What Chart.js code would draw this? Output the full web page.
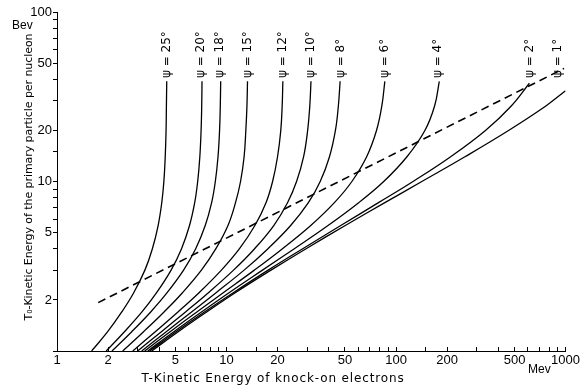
<!DOCTYPE html>
<html lang="en">
<head>
    <meta charset="UTF-8">
    <title>Knock-on electrons vs primary energy</title>
    <script src="https://cdn.jsdelivr.net/npm/chart.js"></script>
    <style>
        html, body { margin: 0; padding: 0; background: #fff; }
        #wrap { width: 586px; height: 387px; position: relative; }
    </style>
</head>
<body>
    <div id="wrap"><canvas id="chart"></canvas></div>

    <script>
        // angles of emission, one curve each
        const psiAngles = [25, 20, 18, 15, 12, 10, 8, 6, 4, 2, 1];

        // T0, primary energy per nucleon (Bev) - shared y values
        const primaryT0 = [1, 1.3, 1.7, 2.2, 3, 4, 5.5, 7.5, 10, 14, 20, 28];
        // where each curve stops at the top
        const topT0 = [39, 39, 39, 39, 39, 39, 39, 39, 39, 38, 34.3];

        // T, knock-on electron energy (Mev)
        const psi25 = [1.60, 1.99, 2.41, 2.83, 3.30, 3.65, 3.95, 4.15, 4.27, 4.35, 4.40, 4.42, 4.44];
        const psi20 = [1.95, 2.50, 3.17, 3.86, 4.71, 5.42, 6.05, 6.49, 6.76, 6.96, 7.08, 7.14, 7.17];
        const psi18 = [2.11, 2.76, 3.57, 4.45, 5.58, 6.57, 7.49, 8.17, 8.59, 8.91, 9.10, 9.19, 9.24];
        const psi15 = [2.44, 3.24, 4.28, 5.48, 7.11, 8.64, 10.2, 11.3, 12.1, 12.7, 13.0, 13.2, 13.3];
        const psi12 = [2.80, 3.80, 5.17, 6.86, 9.33, 11.9, 14.7, 17.1, 18.7, 20.0, 20.9, 21.3, 21.5];
        const psi10 = [2.99, 4.13, 5.73, 7.79, 11.0, 14.6, 19.0, 22.9, 25.9, 28.5, 30.1, 31.0, 31.5];
        const psi8  = [3.16, 4.41, 6.22, 8.64, 12.7, 17.5, 23.9, 30.4, 35.7, 40.5, 43.9, 45.7, 46.8];
        const psi6  = [3.29, 4.65, 6.68, 9.52, 14.6, 21.3, 31.4, 43.3, 54.9, 67.1, 76.7, 82.5, 85.9];
        const psi4  = [3.43, 4.89, 7.12, 10.3, 16.3, 25.0, 39.7, 60.2, 84.6, 116, 148, 169, 180];
        const psi2  = [3.52, 5.04, 7.41, 10.9, 17.6, 28.0, 47.2, 78.8, 126, 210, 337, 480, 612];
        const psi1  = [3.62, 5.19, 7.64, 11.2, 18.3, 29.3, 50.2, 85.9, 142, 255, 461, 769, 1000];
        const curves = [psi25, psi20, psi18, psi15, psi12, psi10, psi8, psi6, psi4, psi2, psi1];

        // T where each psi label sits
        const labelT = [4.44, 7.1, 9.2, 13.3, 21.4, 31.5, 47.3, 86, 177, 620, 900];

        // dashed line, ends
        const dashT = [1.75, 980];
        const dashT0 = [1.93, 46.5];

        const xTickLabels = [1, 2, 5, 10, 20, 50, 100, 200, 500, 1000];
        const yTickLabels = [2, 5, 10, 20, 50, 100];

        const datasets = curves.map((vals, i) => ({
            label: 'psi = ' + psiAngles[i],
            data: vals.map((t, j) => ({ x: t, y: j < primaryT0.length ? primaryT0[j] : topT0[i] })),
            borderColor: '#000',
            borderWidth: 1.3,
            showLine: true,
            tension: 0.4,
            pointRadius: 0,
            fill: false
        }));

        datasets.push({
            label: 'dashed',
            data: dashT.map((t, j) => ({ x: t, y: dashT0[j] })),
            borderColor: '#000',
            borderWidth: 1.6,
            borderDash: [8, 5],
            showLine: true,
            pointRadius: 0,
            fill: false
        });

        const textPlugin = {
            id: 'textPlugin',
            afterDraw(chart) {
                const { ctx, scales: { x } } = chart;
                ctx.save();
                ctx.fillStyle = '#000';

                // psi labels, rotated
                ctx.font = '12px "DejaVu Sans"';
                ctx.textAlign = 'left';
                ctx.textBaseline = 'middle';
                psiAngles.forEach((a, i) => {
                    const px = x.getPixelForValue(labelT[i]);
                    ctx.save();
                    ctx.translate(px, 78);
                    ctx.rotate(-Math.PI / 2);
                    ctx.fillText('\u03c8 = ' + a + '\u00b0', 0, 0);
                    ctx.restore();
                });

                // units
                ctx.font = '12px "Liberation Sans"';
                ctx.textAlign = 'left';
                ctx.fillText('Bev', 12, 26);
                ctx.fillText('Mev', 528, 370);

                // x title
                ctx.font = '12px "DejaVu Sans"';
                ctx.textAlign = 'center';
                const xt = 'T-Kinetic Energy of knock-on electrons';
                ctx.letterSpacing = ((263 - ctx.measureText(xt).width) / xt.length) + 'px';
                ctx.fillText(xt, 273, 379);

                // y title
                ctx.font = '11px "DejaVu Sans"';
                const yt = 'T\u2080-Kinetic Energy of the primary particle per nucleon';
                ctx.letterSpacing = '0px';
                ctx.letterSpacing = ((287 - ctx.measureText(yt).width) / yt.length) + 'px';
                ctx.save();
                ctx.translate(29, 177);
                ctx.rotate(-Math.PI / 2);
                ctx.fillText(yt, 0, 0);
                ctx.restore();

                ctx.restore();
            }
        };

        const tickFont = { family: 'Liberation Sans', size: 13 };

        new Chart(document.getElementById('chart'), {
            type: 'scatter',
            data: { datasets: datasets },
            options: {
                responsive: true,
                maintainAspectRatio: false,
                animation: false,
                layout: { padding: { left: 0, right: 19, top: 12, bottom: 0 } },
                plugins: {
                    legend: { display: false },
                    tooltip: { enabled: false }
                },
                scales: {
                    x: {
                        type: 'logarithmic',
                        min: 1,
                        max: 1000,
                        // ticks point up into the plot like the original
                        grid: { drawOnChartArea: false, tickLength: -4, color: '#000' },
                        border: { color: '#000', width: 1 },
                        ticks: {
                            autoSkip: false,
                            maxRotation: 0,
                            padding: 6,
                            color: '#000',
                            font: tickFont,
                            callback: (v) => xTickLabels.includes(Math.round(v * 100) / 100) ? String(v) : ''
                        },
                        afterFit: (s) => { s.height = 36; }
                    },
                    y: {
                        type: 'logarithmic',
                        min: 1,
                        max: 100,
                        grid: { drawOnChartArea: false, tickLength: 4, color: '#000' },
                        border: { color: '#000', width: 1 },
                        ticks: {
                            autoSkip: false,
                            padding: 1,
                            color: '#000',
                            font: tickFont,
                            callback: (v) => yTickLabels.includes(Math.round(v * 100) / 100) ? String(v) : ''
                        },
                        afterFit: (s) => { s.width = 57; }
                    }
                }
            },
            plugins: [textPlugin]
        });
    </script>
</body>
</html>
